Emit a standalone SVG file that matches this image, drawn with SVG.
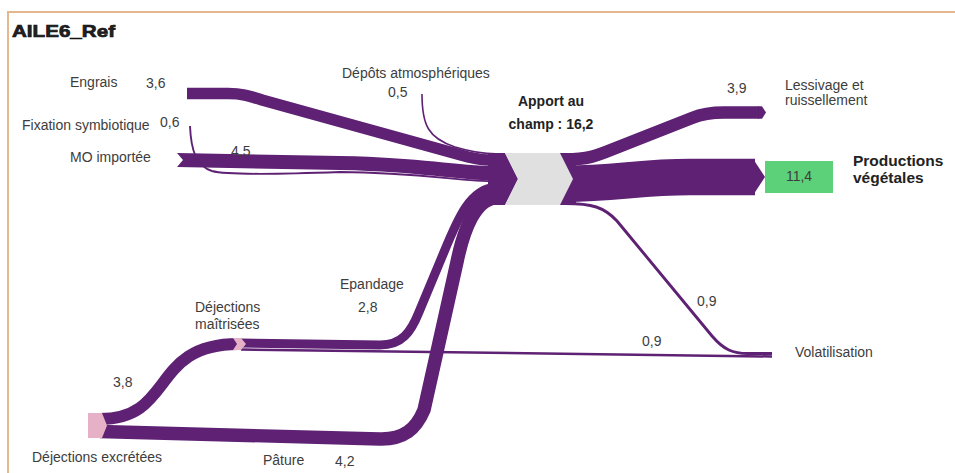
<svg xmlns="http://www.w3.org/2000/svg" width="955" height="473" viewBox="0 0 955 473">
<style>
.band{fill:none;stroke:#5e2173;stroke-linecap:butt;stroke-linejoin:round}
.fillp{fill:#5e2173}
.lbl{font-family:"Liberation Sans",Arial,sans-serif;font-size:14px;fill:#3d3d3d}
.val{font-family:"Liberation Sans",Arial,sans-serif;font-size:14px;fill:#3d3d3d}
.bold{font-family:"Liberation Sans",Arial,sans-serif;font-weight:bold;fill:#222}
.pink{fill:#e6b0c6}
</style>
<rect x="0" y="0" width="955" height="473" fill="#ffffff"/>
<path d="M8,473 V12 H955" fill="none" stroke="#e4b78f" stroke-width="2"/>
<text x="12" y="37" class="bold" font-size="17" fill="#111" stroke="#111" stroke-width="0.7" textLength="103" lengthAdjust="spacingAndGlyphs">AILE6_Ref</text>

<g id="connectors">
  <!-- inflows to Apport au champ -->
  <path class="band" stroke-width="11.5" d="M187,93.5 H228 C242,93.5 248,95.5 262,100 L468,157 C480,160 486,160.4 496,160.4"/>
  <path class="band" stroke-width="1.6" d="M422,94 C422,125 428,138 455,147 C475,153 485,153.8 496,153.8"/>
  <path class="fillp" d="M177,153 L340,156 C420,157.5 460,166.1 496,166.1 L496,180.5 C460,180.5 420,171.5 340,170 L177,167 L183,160 Z"/>
  <path class="band" stroke-width="1.9" d="M190,126 C191,150 196,166 212,171 C230,176 300,173.5 340,172 C420,172.5 460,181.5 496,181.5"/>
  <path class="band" stroke-width="9" d="M240,343 L380,345 C402,345 411,332 419,312 L444,252 C458,218 470,189 496,187"/>
  <path class="band" stroke-width="13.4" d="M100,431.5 L380,439 C404,439.5 416,429 424,410 L457,262 C464,228 476,199 496,198"/>
  <!-- excretees to maitrisees -->
  <path class="band" stroke-width="12" d="M100,419 C175,419 150,344 238,344"/>
  <!-- maitrisees to volatilisation -->
  <path class="band" stroke-width="2.5" d="M241,349.5 L772,356.5"/>
  <!-- incoming chevron at node -->
  <polygon class="fillp" points="488,153 505,153 518,179 505,205 488,205"/>
  <!-- outflows -->
  <rect class="fillp" x="556" y="153" width="20" height="52"/>
  <path class="band" stroke-width="12.5" d="M565,159.25 C588,159.25 596,156 612,149.5 L692,118 C703,113.5 712,112.5 724,112.5 L759,112.5"/>
  <polygon class="fillp" points="758,106.25 762,106.25 766,112.5 762,118.75 758,118.75"/>
  <path class="band" stroke-width="36.5" d="M565,183.75 C615,183.75 640,177 690,177 L755,177"/>
  <polygon class="fillp" points="753,158.75 765,177 753,195.25"/>
  <path class="band" stroke-width="2.9" d="M565,203.5 C592,203.5 604,207 617,221 L712,336 C724,350 733,353.5 748,353.5 L772,353.5"/>
</g>

<g id="node-apport">
  <polygon fill="#e0e0e0" points="505,153 560,153 573,179 560,205 505,205 518,179"/>
  <text class="bold" font-size="14" x="551" y="106" text-anchor="middle">Apport au</text>
  <text class="bold" font-size="14" x="551" y="129" text-anchor="middle">champ : 16,2</text>
</g>
<g id="node-engrais">
  <text class="lbl" x="70" y="87">Engrais</text>
  <text class="val" x="146" y="88">3,6</text>
</g>
<g id="node-fixation">
  <text class="lbl" x="22" y="130">Fixation symbiotique</text>
  <text class="val" x="160" y="127">0,6</text>
</g>
<g id="node-mo">
  <text class="lbl" x="70" y="162">MO importée</text>
  <text class="val" x="231" y="156">4,5</text>
</g>
<g id="node-depots">
  <text class="lbl" x="342" y="78">Dépôts atmosphériques</text>
  <text class="val" x="388" y="97">0,5</text>
</g>
<g id="node-lessivage">
  <text class="val" x="727" y="93">3,9</text>
  <text class="lbl" x="785" y="90" font-size="13.5">Lessivage et</text>
  <text class="lbl" x="785" y="105" font-size="13.5">ruissellement</text>
</g>
<g id="node-productions">
  <rect x="765" y="161" width="68" height="32" fill="#5dd17a"/>
  <text class="val" x="799" y="181" text-anchor="middle" fill="#1f2a1f">11,4</text>
  <text class="bold" font-size="15.5" x="853" y="166">Productions</text>
  <text class="bold" font-size="15.5" x="853" y="183">végétales</text>
</g>
<g id="node-volatilisation">
  <text class="val" x="697" y="306">0,9</text>
  <text class="val" x="642" y="346">0,9</text>
  <text class="lbl" x="795" y="357">Volatilisation</text>
</g>
<g id="node-maitrisees">
  <polygon class="pink" points="233,338 241,338 246,344 241,350 233,350 237,344"/>
  <text class="lbl" x="195" y="312">Déjections</text>
  <text class="lbl" x="195" y="329">maîtrisées</text>
  <text class="lbl" x="340" y="289">Epandage</text>
  <text class="val" x="358" y="312">2,8</text>
</g>
<g id="node-excretees">
  <polygon class="pink" points="88,413 102,413 107,425.5 102,438 88,438"/>
  <text class="val" x="113" y="387">3,8</text>
  <text class="lbl" x="32" y="462">Déjections excrétées</text>
  <text class="lbl" x="263" y="465">Pâture</text>
  <text class="val" x="335" y="466">4,2</text>
</g>
</svg>
